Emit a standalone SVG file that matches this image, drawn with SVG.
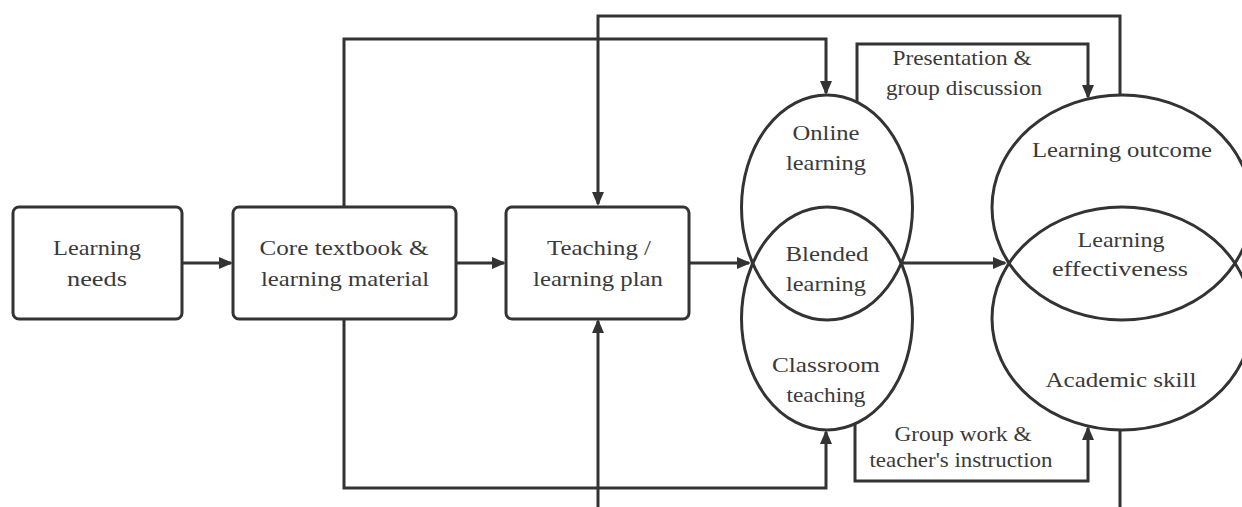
<svg xmlns="http://www.w3.org/2000/svg" width="1242" height="507" viewBox="0 0 1242 507">
<defs>
<marker id="ah" viewBox="0 0 14 12" refX="12" refY="6" markerWidth="14" markerHeight="12" markerUnits="userSpaceOnUse" orient="auto">
<path d="M0,0 L14,6 L0,12 z" fill="#333"/>
</marker>
<style>
.box{fill:#fff;stroke:#333;stroke-width:3}
.ell{fill:none;stroke:#333;stroke-width:3}
.ln{fill:none;stroke:#333;stroke-width:3}
.arr{fill:none;stroke:#333;stroke-width:3;marker-end:url(#ah)}
text{font-family:"Liberation Serif","DejaVu Serif","Times New Roman",serif;font-size:22px;fill:#3a3a3a;text-anchor:middle}
</style>
</defs>
<rect width="1242" height="507" fill="#fff"/>
<g id="connectors">
<path class="arr" d="M182,263 H231"/>
<path class="arr" d="M456,263 H504"/>
<path class="arr" d="M689,263 H749"/>
<path class="arr" d="M903,263 H1005"/>
<path class="arr" d="M344,207 V39 H826 V93"/>
<path class="arr" d="M1120,96 V16 H598 V204"/>
<path class="arr" d="M857,102 V44 H1088 V97"/>
<path class="arr" d="M344,319 V488 H826 V432"/>
<path class="arr" d="M598,507 V321"/>
<path class="arr" d="M855,424 V481 H1088 V428"/>
<path class="ln" d="M1120,430 V507"/>
</g>
<g id="learning-needs" font-family="Liberation Serif, serif">
<rect class="box" x="13" y="207" width="169" height="112" rx="6"/>
<text x="97" y="255" textLength="88" lengthAdjust="spacingAndGlyphs">Learning</text>
<text x="97" y="286" textLength="60" lengthAdjust="spacingAndGlyphs">needs</text>
</g>
<g id="core-textbook">
<rect class="box" x="233" y="207" width="223" height="112" rx="6"/>
<text x="344" y="255" textLength="169" lengthAdjust="spacingAndGlyphs">Core textbook &amp;</text>
<text x="345" y="286" textLength="168" lengthAdjust="spacingAndGlyphs">learning material</text>
</g>
<g id="teaching-plan">
<rect class="box" x="506" y="207" width="183" height="112" rx="6"/>
<text x="599" y="255" textLength="104" lengthAdjust="spacingAndGlyphs">Teaching /</text>
<text x="598" y="286" textLength="130" lengthAdjust="spacingAndGlyphs">learning plan</text>
</g>
<g id="online-learning">
<ellipse class="ell" cx="827" cy="207.5" rx="85.5" ry="112.5"/>
<text x="826" y="140" textLength="67" lengthAdjust="spacingAndGlyphs">Online</text>
<text x="826" y="170" textLength="80" lengthAdjust="spacingAndGlyphs">learning</text>
</g>
<g id="classroom-teaching">
<ellipse class="ell" cx="827" cy="318.5" rx="85.5" ry="111.5"/>
<text x="826" y="372" textLength="108" lengthAdjust="spacingAndGlyphs">Classroom</text>
<text x="826" y="402" textLength="79" lengthAdjust="spacingAndGlyphs">teaching</text>
</g>
<g id="blended-learning">
<text x="827" y="261" textLength="83" lengthAdjust="spacingAndGlyphs">Blended</text>
<text x="826" y="291" textLength="80" lengthAdjust="spacingAndGlyphs">learning</text>
</g>
<g id="learning-outcome">
<ellipse class="ell" cx="1122" cy="207.5" rx="130" ry="112.5"/>
<text x="1122" y="157" textLength="180" lengthAdjust="spacingAndGlyphs">Learning outcome</text>
</g>
<g id="academic-skill">
<ellipse class="ell" cx="1122" cy="318.5" rx="130" ry="111.5"/>
<text x="1121" y="387" textLength="151" lengthAdjust="spacingAndGlyphs">Academic skill</text>
</g>
<g id="learning-effectiveness">
<text x="1121" y="247" textLength="87" lengthAdjust="spacingAndGlyphs">Learning</text>
<text x="1120" y="276" textLength="136" lengthAdjust="spacingAndGlyphs">effectiveness</text>
</g>
<g id="labels">
<text x="962" y="65" textLength="139" lengthAdjust="spacingAndGlyphs">Presentation &amp;</text>
<text x="964" y="95" textLength="156" lengthAdjust="spacingAndGlyphs">group discussion</text>
<text x="963" y="441" textLength="137" lengthAdjust="spacingAndGlyphs">Group work &amp;</text>
<text x="961" y="467" textLength="183" lengthAdjust="spacingAndGlyphs">teacher's instruction</text>
</g>
</svg>
